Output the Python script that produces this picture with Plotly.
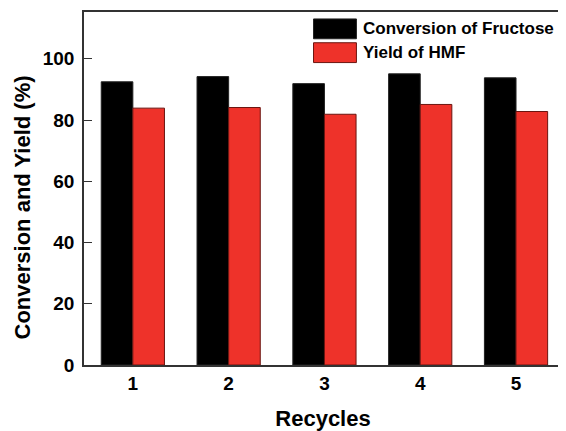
import plotly.graph_objects as go

recycles = ["1", "2", "3", "4", "5"]
conversion = [92.5, 94.2, 91.9, 95.1, 93.8]
yield_hmf = [83.9, 84.1, 81.9, 85.1, 82.8]
series_names = ["Conversion of Fructose", "Yield of HMF"]
y_ticks = [0, 20, 40, 60, 80, 100]

BLACK = "#000000"
RED = "#EE322A"
FONT = "Liberation Sans, Arial, sans-serif"

# page body adds an 8px offset, so the figure is sized to the visible area
W, H = 558, 423
L, R, T, B = 76, 3, 2, 65
PW, PH = W - L - R, H - T - B

x_pos = [int(r) for r in recycles]

fig = go.Figure()
fig.add_trace(go.Bar(x=x_pos, y=conversion, name=series_names[0],
                     marker=dict(color=BLACK, line=dict(color="#222222", width=1))))
fig.add_trace(go.Bar(x=x_pos, y=yield_hmf, name=series_names[1],
                     marker=dict(color=RED, line=dict(color="#6b1510", width=1))))

fig.update_layout(
    width=W, height=H,
    margin=dict(l=L, r=R, t=T, b=B),
    paper_bgcolor="white", plot_bgcolor="white",
    barmode="group", bargap=0.34, bargroupgap=0,
    showlegend=False,
    font=dict(family=FONT, color="black"),
)

fig.update_xaxes(
    range=[0.49, 5.48], tickvals=x_pos, ticktext=["<b>%s</b>" % r for r in recycles],
    tickfont=dict(size=19, family=FONT), ticks="",
    showline=True, linecolor="#333333", linewidth=1.5, mirror=True,
    showgrid=False, zeroline=False,
    title=dict(text="<b>Recycles</b>", font=dict(size=22, family=FONT), standoff=20),
)
fig.update_yaxes(
    range=[0, 115.3], tickvals=y_ticks, ticktext=["<b>%d</b>" % v for v in y_ticks],
    tickfont=dict(size=19, family=FONT), ticks="inside", ticklen=8, tickwidth=1.2,
    tickcolor="#333333", ticklabelstandoff=4,
    showline=True, linecolor="#333333", linewidth=1.5, mirror=True,
    showgrid=False, zeroline=False,
)

# y-axis title (sits a little below the axis centre in the reference)
fig.add_annotation(xref="paper", yref="paper",
                   x=-62 / PW, y=1 - 197 / PH,
                   text="<b>Conversion and Yield (%)</b>", textangle=-90,
                   showarrow=False, xanchor="center", yanchor="middle",
                   font=dict(size=22, family=FONT, color="black"))

# legend drawn as swatches + labels in paper space (pixel offsets from plot-area top-left)
legend_colors = [BLACK, RED]
legend_lines = ["#222222", "#6b1510"]
for i, (name, col, lc) in enumerate(zip(series_names, legend_colors, legend_lines)):
    top = 7 + i * 24
    fig.add_shape(type="rect", xref="paper", yref="paper",
                  x0=230 / PW, x1=273 / PW,
                  y0=1 - (top + 20) / PH, y1=1 - top / PH,
                  fillcolor=col, line=dict(color=lc, width=1))
    fig.add_annotation(xref="paper", yref="paper",
                       x=278 / PW, y=1 - (top + 10) / PH,
                       text="<b>%s</b>" % name, showarrow=False,
                       xanchor="left", yanchor="middle",
                       font=dict(size=17, family=FONT, color="black"))

fig.write_html("out.html")
